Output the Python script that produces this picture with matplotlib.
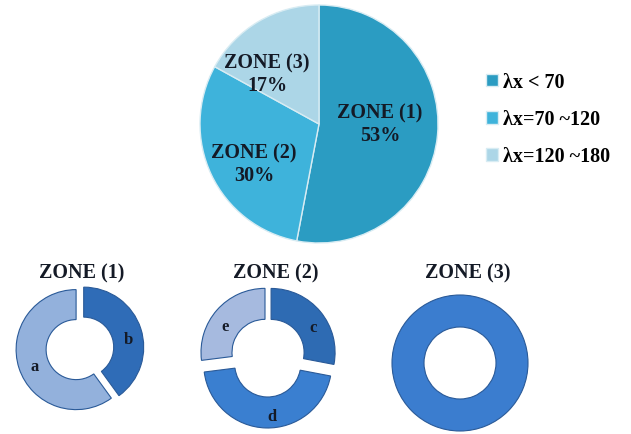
import matplotlib
matplotlib.use("Agg")
import matplotlib.pyplot as plt

# main pie
zones = ["ZONE (1)", "ZONE (2)", "ZONE (3)"]
zone_share = [53, 30, 17]
legend_labels = ["λx < 70", "λx=70 ~120", "λx=120 ~180"]
zone_colors = ["#2b9cc2", "#3eb3db", "#acd6e7"]

# small donuts
zone1_parts = ["b", "a"]
zone1_share = [40, 60]
zone2_parts = ["c", "d", "e"]
zone2_share = [28, 45, 27]
zone3_parts = [""]
zone3_share = [100]

W, H = 631, 435
serif = ["Liberation Serif", "DejaVu Serif"]
ink = "#141a26"

fig = plt.figure(figsize=(W / 100, H / 100), dpi=100)
ax = fig.add_axes([0, 0, 1, 1])


def donut(center, radius, share, colors, explode, labels, label_pos, width):
    # explode is in pixels here, pie does not scale it by the radius
    wedges, _ = ax.pie(share, colors=colors, explode=explode, startangle=90,
                       counterclock=False, center=(center[0], H - center[1]),
                       radius=radius, frame=True,
                       wedgeprops=dict(width=width, edgecolor="#2a5a98", linewidth=0.8))
    for lab, (x, y) in zip(labels, label_pos):
        ax.text(x, H - y, lab, ha="center", va="center", fontsize=12,
                fontweight="bold", family=serif, color=ink)
    return wedges


# big pie
wedges, _ = ax.pie(zone_share, colors=zone_colors, startangle=90, counterclock=False,
                   center=(319, H - 125), radius=119, frame=True,
                   wedgeprops=dict(edgecolor="#d8ecf3", linewidth=1.0))
big_label_pos = [(380, 125), (254, 165), (267, 75)]
for name, pct, (x, y) in zip(zones, zone_share, big_label_pos):
    ax.text(x, H - y, f"{name}\n{pct}%", ha="center", va="center", fontsize=14.5,
            fontweight="bold", family=serif, color=ink, linespacing=1.15)

ax.legend(wedges, legend_labels, loc="upper left", bbox_to_anchor=(468 / W, 1 - 55 / H),
          bbox_transform=fig.transFigure, frameon=False, handlelength=0.6,
          handleheight=0.6, handletextpad=0.25, labelspacing=0.85,
          prop=dict(family=serif, weight="bold", size=14.5))

# bottom donuts
donut((78, 350), 60, zone1_share, ["#2f6cb7", "#93b1dc"], [6, 2],
      zone1_parts, [(128, 340), (35, 367)], 30)
donut((268, 356), 64, zone2_share, ["#2e6bb3", "#3a7fd0", "#a6badf"], [4, 9, 4],
      zone2_parts, [(313, 328), (272, 417), (225, 327)], 31)
donut((460, 364), 68, zone3_share, ["#3b7dcf"], [0], zone3_parts, [], 32)

for name, x in zip(zones, [82, 276, 468]):
    ax.text(x, H - 273, name, ha="center", va="center", fontsize=14.5,
            fontweight="bold", family=serif, color=ink)

ax.set_xlim(0, W)
ax.set_ylim(0, H)
ax.set_aspect("equal", adjustable="box")
ax.axis("off")

fig.savefig("out.png", dpi=100)
